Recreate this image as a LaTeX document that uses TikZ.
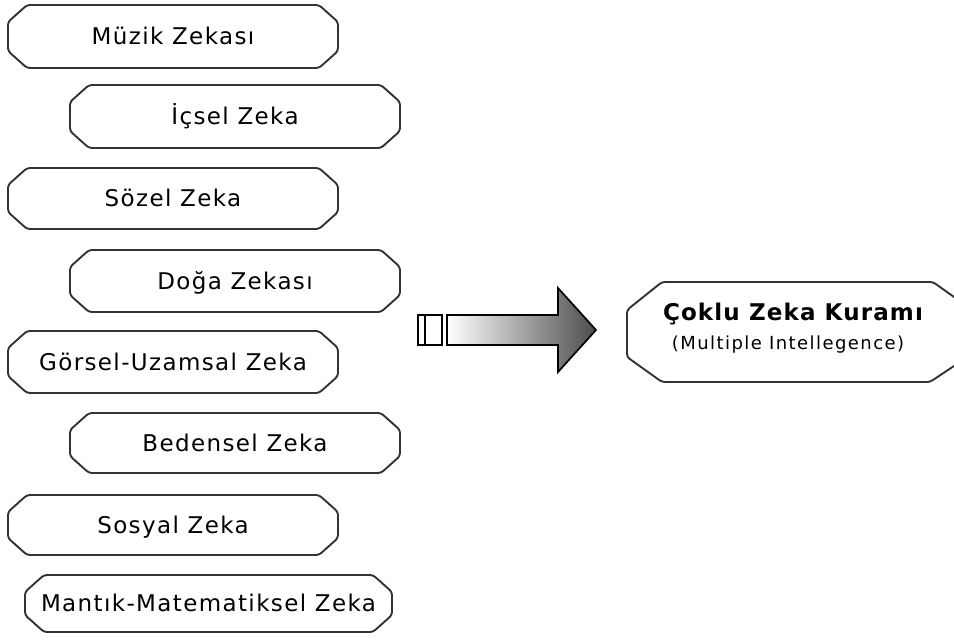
\documentclass[tikz,border=0pt]{standalone}
\usepackage{fontspec}
\newfontfamily\zf{DejaVu Sans}[LetterSpace=6]
\newfontfamily\zft{DejaVu Sans}[LetterSpace=5]
\newfontfamily\zfs{DejaVu Sans}[LetterSpace=8]
\tikzset{
  zline/.style={draw=black!80, line width=1.9pt, line join=round, rounded corners=3pt, fill=white},
  ztext/.style={anchor=base, inner sep=0pt, font=\zf\fontsize{23}{27}\selectfont},
  arrowline/.style={draw=black, line width=1.7pt, line join=miter},
}
\newcommand\zbox[6]{%
  \draw[zline] (#2,#3+17) -- (#2+19,#3) -- (#4-19,#3) -- (#4,#3+17) -- (#4,#5-17)
     -- (#4-19,#5) -- (#2+19,#5) -- (#2,#5-17) -- cycle;
  \node[ztext] (#1) at ({(#2+#4)/2},{(#3+#5)/2+8}) {#6};}
\begin{document}
\begin{tikzpicture}[x=1pt,y=-1pt]
\useasboundingbox (0,0) rectangle (954,643);
\zbox{b1}{8}{5}{338}{68}{Müzik Zekası}
\zbox{b2}{70}{85}{400}{148}{İçsel Zeka}
\zbox{b3}{8}{168}{338}{229}{Sözel Zeka}
\zbox{b4}{70}{250}{400}{312}{Doğa Zekası}
\zbox{b5}{8}{331}{338}{393}{Görsel-Uzamsal Zeka}
\zbox{b6}{70}{413}{400}{473}{Bedensel Zeka}
\zbox{b7}{8}{495}{338}{555}{Sosyal Zeka}
\zbox{b8}{25}{575}{392}{632}{Mantık-Matematiksel Zeka}
% block arrow
\draw[arrowline, fill=white] (418,315) rectangle (425,345);
\draw[arrowline, fill=white] (425,315) rectangle (442,345);
\draw[arrowline, left color=white, right color=black!70]
  (447,315) -- (558,315) -- (558,288) -- (596,330) -- (558,372) -- (558,345) -- (447,345) -- cycle;
% big box
\begin{scope}
\clip (0,0) rectangle (954,643);
\draw[zline] (627,310) -- (662,282) -- (933,282) -- (975,312) -- (975,352)
  -- (930,382) -- (662,382) -- (627,357) -- cycle;
\end{scope}
\node[anchor=base, inner sep=0pt, font=\zft\bfseries\fontsize{23}{27}\selectfont] (t1) at (793,320) {Çoklu Zeka Kuramı};
\node[anchor=base, inner sep=0pt, font=\zfs\fontsize{18}{22}\selectfont] (t2) at (788,349) {(Multiple Intellegence)};
\end{tikzpicture}
\end{document}
